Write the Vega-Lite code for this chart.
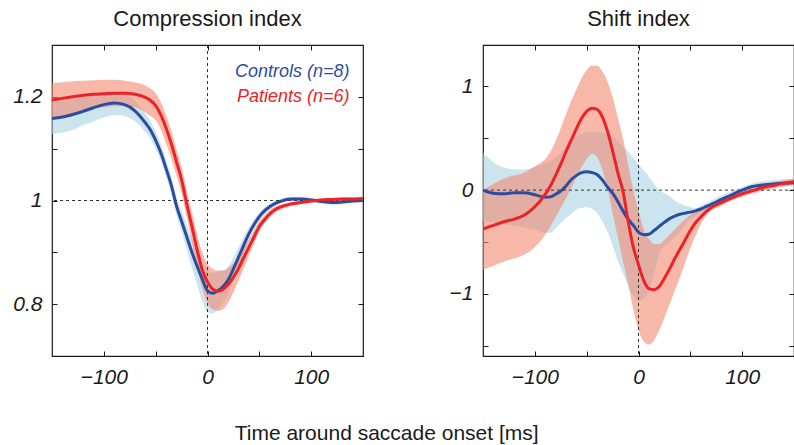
{
  "$schema": "https://vega.github.io/schema/vega-lite/v6.json",
  "background": "white",
  "padding": {"left": 12, "top": 6, "right": 0, "bottom": 0},
  "bounds": "flush",
  "spacing": 120,
  "config": {
    "font": "Liberation Sans",
    "view": {"stroke": "#1a1a1a", "strokeWidth": 1.2},
    "axis": {"grid": false, "domain": false, "title": null, "tickColor": "#1a1a1a", "tickSize": -5, "tickWidth": 1, "labelFont": "Liberation Sans", "labelFontSize": 21, "labelFontStyle": "italic", "labelColor": "#1a1a1a", "labelPadding": 15},
    "title": {"font": "Liberation Sans", "fontSize": 22, "fontWeight": "normal", "color": "#1a1a1a"}
  },
  "title": {"text": "Time around saccade onset [ms]", "orient": "bottom", "anchor": "middle", "offset": 35, "dx": -17, "fontSize": 21},
  "datasets": {
    "left": [
      {"t":-150,"g":"Controls","m":1.158,"lo":1.128,"hi":1.19},
      {"t":-140,"g":"Controls","m":1.161,"lo":1.131,"hi":1.192},
      {"t":-130,"g":"Controls","m":1.166,"lo":1.136,"hi":1.195},
      {"t":-120,"g":"Controls","m":1.172,"lo":1.145,"hi":1.199},
      {"t":-110,"g":"Controls","m":1.179,"lo":1.153,"hi":1.203},
      {"t":-100,"g":"Controls","m":1.185,"lo":1.16,"hi":1.206},
      {"t":-90,"g":"Controls","m":1.188,"lo":1.165,"hi":1.207},
      {"t":-80,"g":"Controls","m":1.185,"lo":1.163,"hi":1.205},
      {"t":-70,"g":"Controls","m":1.173,"lo":1.153,"hi":1.193},
      {"t":-60,"g":"Controls","m":1.15,"lo":1.132,"hi":1.168},
      {"t":-55,"g":"Controls","m":1.136,"lo":1.119,"hi":1.153},
      {"t":-50,"g":"Controls","m":1.116,"lo":1.1,"hi":1.132},
      {"t":-45,"g":"Controls","m":1.092,"lo":1.076,"hi":1.108},
      {"t":-40,"g":"Controls","m":1.062,"lo":1.046,"hi":1.078},
      {"t":-35,"g":"Controls","m":1.03,"lo":1.014,"hi":1.046},
      {"t":-30,"g":"Controls","m":0.99,"lo":0.973,"hi":1.007},
      {"t":-25,"g":"Controls","m":0.96,"lo":0.94,"hi":0.98},
      {"t":-20,"g":"Controls","m":0.93,"lo":0.905,"hi":0.953},
      {"t":-15,"g":"Controls","m":0.9,"lo":0.87,"hi":0.925},
      {"t":-10,"g":"Controls","m":0.873,"lo":0.838,"hi":0.903},
      {"t":-5,"g":"Controls","m":0.848,"lo":0.805,"hi":0.885},
      {"t":0,"g":"Controls","m":0.826,"lo":0.785,"hi":0.866},
      {"t":5,"g":"Controls","m":0.821,"lo":0.782,"hi":0.86},
      {"t":10,"g":"Controls","m":0.826,"lo":0.79,"hi":0.862},
      {"t":15,"g":"Controls","m":0.834,"lo":0.803,"hi":0.865},
      {"t":20,"g":"Controls","m":0.847,"lo":0.82,"hi":0.872},
      {"t":25,"g":"Controls","m":0.868,"lo":0.845,"hi":0.89},
      {"t":30,"g":"Controls","m":0.891,"lo":0.872,"hi":0.91},
      {"t":35,"g":"Controls","m":0.914,"lo":0.898,"hi":0.93},
      {"t":40,"g":"Controls","m":0.936,"lo":0.924,"hi":0.948},
      {"t":45,"g":"Controls","m":0.954,"lo":0.944,"hi":0.964},
      {"t":50,"g":"Controls","m":0.969,"lo":0.961,"hi":0.977},
      {"t":55,"g":"Controls","m":0.98,"lo":0.973,"hi":0.987},
      {"t":60,"g":"Controls","m":0.988,"lo":0.982,"hi":0.994},
      {"t":65,"g":"Controls","m":0.994,"lo":0.989,"hi":0.999},
      {"t":70,"g":"Controls","m":0.998,"lo":0.994,"hi":1.002},
      {"t":80,"g":"Controls","m":1.003,"lo":0.999,"hi":1.007},
      {"t":90,"g":"Controls","m":1.003,"lo":0.999,"hi":1.007},
      {"t":100,"g":"Controls","m":1.001,"lo":0.997,"hi":1.005},
      {"t":110,"g":"Controls","m":0.998,"lo":0.994,"hi":1.002},
      {"t":120,"g":"Controls","m":0.996,"lo":0.992,"hi":1.0},
      {"t":130,"g":"Controls","m":0.997,"lo":0.993,"hi":1.001},
      {"t":140,"g":"Controls","m":0.999,"lo":0.995,"hi":1.003},
      {"t":150,"g":"Controls","m":1.0,"lo":0.996,"hi":1.004},
      {"t":-150,"g":"Patients","m":1.194,"lo":1.158,"hi":1.226},
      {"t":-140,"g":"Patients","m":1.197,"lo":1.163,"hi":1.228},
      {"t":-130,"g":"Patients","m":1.2,"lo":1.168,"hi":1.23},
      {"t":-120,"g":"Patients","m":1.203,"lo":1.173,"hi":1.231},
      {"t":-110,"g":"Patients","m":1.205,"lo":1.178,"hi":1.232},
      {"t":-100,"g":"Patients","m":1.206,"lo":1.18,"hi":1.233},
      {"t":-90,"g":"Patients","m":1.207,"lo":1.182,"hi":1.233},
      {"t":-80,"g":"Patients","m":1.207,"lo":1.182,"hi":1.231},
      {"t":-70,"g":"Patients","m":1.205,"lo":1.18,"hi":1.228},
      {"t":-60,"g":"Patients","m":1.199,"lo":1.17,"hi":1.222},
      {"t":-55,"g":"Patients","m":1.193,"lo":1.163,"hi":1.216},
      {"t":-50,"g":"Patients","m":1.183,"lo":1.155,"hi":1.207},
      {"t":-45,"g":"Patients","m":1.165,"lo":1.137,"hi":1.19},
      {"t":-40,"g":"Patients","m":1.14,"lo":1.11,"hi":1.165},
      {"t":-35,"g":"Patients","m":1.11,"lo":1.082,"hi":1.135},
      {"t":-30,"g":"Patients","m":1.075,"lo":1.048,"hi":1.1},
      {"t":-25,"g":"Patients","m":1.04,"lo":1.013,"hi":1.065},
      {"t":-20,"g":"Patients","m":0.993,"lo":0.968,"hi":1.02},
      {"t":-15,"g":"Patients","m":0.95,"lo":0.92,"hi":0.978},
      {"t":-10,"g":"Patients","m":0.905,"lo":0.873,"hi":0.935},
      {"t":-5,"g":"Patients","m":0.866,"lo":0.83,"hi":0.9},
      {"t":0,"g":"Patients","m":0.843,"lo":0.802,"hi":0.878},
      {"t":5,"g":"Patients","m":0.829,"lo":0.79,"hi":0.868},
      {"t":10,"g":"Patients","m":0.825,"lo":0.787,"hi":0.865},
      {"t":15,"g":"Patients","m":0.829,"lo":0.79,"hi":0.865},
      {"t":20,"g":"Patients","m":0.838,"lo":0.803,"hi":0.87},
      {"t":25,"g":"Patients","m":0.852,"lo":0.823,"hi":0.879},
      {"t":30,"g":"Patients","m":0.869,"lo":0.846,"hi":0.891},
      {"t":35,"g":"Patients","m":0.89,"lo":0.87,"hi":0.908},
      {"t":40,"g":"Patients","m":0.91,"lo":0.894,"hi":0.925},
      {"t":45,"g":"Patients","m":0.93,"lo":0.917,"hi":0.943},
      {"t":50,"g":"Patients","m":0.95,"lo":0.94,"hi":0.96},
      {"t":55,"g":"Patients","m":0.963,"lo":0.955,"hi":0.971},
      {"t":60,"g":"Patients","m":0.974,"lo":0.967,"hi":0.981},
      {"t":65,"g":"Patients","m":0.982,"lo":0.976,"hi":0.988},
      {"t":70,"g":"Patients","m":0.987,"lo":0.982,"hi":0.992},
      {"t":80,"g":"Patients","m":0.993,"lo":0.989,"hi":0.997},
      {"t":90,"g":"Patients","m":0.996,"lo":0.993,"hi":0.999},
      {"t":100,"g":"Patients","m":0.999,"lo":0.996,"hi":1.002},
      {"t":110,"g":"Patients","m":1.001,"lo":0.998,"hi":1.004},
      {"t":120,"g":"Patients","m":1.002,"lo":0.999,"hi":1.005},
      {"t":130,"g":"Patients","m":1.003,"lo":1.0,"hi":1.006},
      {"t":140,"g":"Patients","m":1.003,"lo":1.0,"hi":1.006},
      {"t":150,"g":"Patients","m":1.004,"lo":1.001,"hi":1.007}
    ],
    "right": [
      {"t":-150,"g":"Controls","m":0.0,"lo":-0.3,"hi":0.36},
      {"t":-140,"g":"Controls","m":-0.03,"lo":-0.31,"hi":0.27},
      {"t":-130,"g":"Controls","m":-0.035,"lo":-0.33,"hi":0.22},
      {"t":-120,"g":"Controls","m":-0.025,"lo":-0.34,"hi":0.2},
      {"t":-110,"g":"Controls","m":-0.025,"lo":-0.36,"hi":0.2},
      {"t":-100,"g":"Controls","m":-0.045,"lo":-0.38,"hi":0.22},
      {"t":-90,"g":"Controls","m":-0.068,"lo":-0.41,"hi":0.26},
      {"t":-85,"g":"Controls","m":-0.065,"lo":-0.41,"hi":0.28},
      {"t":-80,"g":"Controls","m":-0.04,"lo":-0.37,"hi":0.31},
      {"t":-75,"g":"Controls","m":-0.01,"lo":-0.32,"hi":0.36},
      {"t":-70,"g":"Controls","m":0.04,"lo":-0.27,"hi":0.42},
      {"t":-65,"g":"Controls","m":0.1,"lo":-0.23,"hi":0.47},
      {"t":-60,"g":"Controls","m":0.14,"lo":-0.19,"hi":0.52},
      {"t":-55,"g":"Controls","m":0.168,"lo":-0.17,"hi":0.545},
      {"t":-50,"g":"Controls","m":0.178,"lo":-0.165,"hi":0.56},
      {"t":-45,"g":"Controls","m":0.17,"lo":-0.18,"hi":0.565},
      {"t":-40,"g":"Controls","m":0.15,"lo":-0.22,"hi":0.56},
      {"t":-35,"g":"Controls","m":0.1,"lo":-0.3,"hi":0.55},
      {"t":-30,"g":"Controls","m":0.03,"lo":-0.4,"hi":0.54},
      {"t":-25,"g":"Controls","m":-0.03,"lo":-0.53,"hi":0.52},
      {"t":-20,"g":"Controls","m":-0.11,"lo":-0.68,"hi":0.47},
      {"t":-15,"g":"Controls","m":-0.2,"lo":-0.8,"hi":0.42},
      {"t":-10,"g":"Controls","m":-0.28,"lo":-0.93,"hi":0.37},
      {"t":-5,"g":"Controls","m":-0.34,"lo":-1.02,"hi":0.31},
      {"t":0,"g":"Controls","m":-0.405,"lo":-1.07,"hi":0.25},
      {"t":5,"g":"Controls","m":-0.43,"lo":-1.05,"hi":0.19},
      {"t":10,"g":"Controls","m":-0.425,"lo":-0.97,"hi":0.13},
      {"t":15,"g":"Controls","m":-0.39,"lo":-0.8,"hi":0.06},
      {"t":20,"g":"Controls","m":-0.35,"lo":-0.62,"hi":0.0},
      {"t":25,"g":"Controls","m":-0.31,"lo":-0.54,"hi":-0.03},
      {"t":30,"g":"Controls","m":-0.275,"lo":-0.5,"hi":-0.06},
      {"t":35,"g":"Controls","m":-0.25,"lo":-0.45,"hi":-0.1},
      {"t":40,"g":"Controls","m":-0.232,"lo":-0.4,"hi":-0.13},
      {"t":45,"g":"Controls","m":-0.222,"lo":-0.33,"hi":-0.15},
      {"t":50,"g":"Controls","m":-0.212,"lo":-0.28,"hi":-0.165},
      {"t":55,"g":"Controls","m":-0.2,"lo":-0.25,"hi":-0.175},
      {"t":60,"g":"Controls","m":-0.182,"lo":-0.22,"hi":-0.15},
      {"t":65,"g":"Controls","m":-0.16,"lo":-0.2,"hi":-0.13},
      {"t":70,"g":"Controls","m":-0.138,"lo":-0.18,"hi":-0.1},
      {"t":80,"g":"Controls","m":-0.09,"lo":-0.13,"hi":-0.05},
      {"t":90,"g":"Controls","m":-0.045,"lo":-0.09,"hi":-0.01},
      {"t":100,"g":"Controls","m":0.0,"lo":-0.05,"hi":0.03},
      {"t":110,"g":"Controls","m":0.035,"lo":-0.01,"hi":0.065},
      {"t":120,"g":"Controls","m":0.05,"lo":0.015,"hi":0.085},
      {"t":130,"g":"Controls","m":0.06,"lo":0.03,"hi":0.095},
      {"t":140,"g":"Controls","m":0.067,"lo":0.035,"hi":0.105},
      {"t":150,"g":"Controls","m":0.072,"lo":0.04,"hi":0.11},
      {"t":-150,"g":"Patients","m":-0.375,"lo":-0.77,"hi":0.0},
      {"t":-140,"g":"Patients","m":-0.34,"lo":-0.73,"hi":0.06},
      {"t":-130,"g":"Patients","m":-0.305,"lo":-0.69,"hi":0.11},
      {"t":-120,"g":"Patients","m":-0.28,"lo":-0.66,"hi":0.14},
      {"t":-110,"g":"Patients","m":-0.24,"lo":-0.62,"hi":0.17},
      {"t":-100,"g":"Patients","m":-0.16,"lo":-0.55,"hi":0.23},
      {"t":-90,"g":"Patients","m":-0.04,"lo":-0.43,"hi":0.3},
      {"t":-85,"g":"Patients","m":0.04,"lo":-0.35,"hi":0.37},
      {"t":-80,"g":"Patients","m":0.14,"lo":-0.26,"hi":0.47},
      {"t":-75,"g":"Patients","m":0.25,"lo":-0.17,"hi":0.6},
      {"t":-70,"g":"Patients","m":0.37,"lo":-0.08,"hi":0.73},
      {"t":-65,"g":"Patients","m":0.48,"lo":0.02,"hi":0.86},
      {"t":-60,"g":"Patients","m":0.59,"lo":0.12,"hi":0.97},
      {"t":-55,"g":"Patients","m":0.69,"lo":0.22,"hi":1.08},
      {"t":-50,"g":"Patients","m":0.76,"lo":0.3,"hi":1.16},
      {"t":-45,"g":"Patients","m":0.79,"lo":0.35,"hi":1.2},
      {"t":-40,"g":"Patients","m":0.78,"lo":0.32,"hi":1.2},
      {"t":-35,"g":"Patients","m":0.71,"lo":0.2,"hi":1.15},
      {"t":-30,"g":"Patients","m":0.57,"lo":0.02,"hi":1.05},
      {"t":-25,"g":"Patients","m":0.38,"lo":-0.22,"hi":0.9},
      {"t":-20,"g":"Patients","m":0.17,"lo":-0.45,"hi":0.7},
      {"t":-15,"g":"Patients","m":-0.01,"lo":-0.68,"hi":0.5},
      {"t":-10,"g":"Patients","m":-0.3,"lo":-0.9,"hi":0.25},
      {"t":-5,"g":"Patients","m":-0.55,"lo":-1.15,"hi":0.0},
      {"t":0,"g":"Patients","m":-0.72,"lo":-1.35,"hi":-0.2},
      {"t":5,"g":"Patients","m":-0.87,"lo":-1.46,"hi":-0.38},
      {"t":10,"g":"Patients","m":-0.95,"lo":-1.49,"hi":-0.47},
      {"t":15,"g":"Patients","m":-0.96,"lo":-1.45,"hi":-0.52},
      {"t":20,"g":"Patients","m":-0.93,"lo":-1.35,"hi":-0.52},
      {"t":25,"g":"Patients","m":-0.85,"lo":-1.23,"hi":-0.48},
      {"t":30,"g":"Patients","m":-0.76,"lo":-1.1,"hi":-0.43},
      {"t":35,"g":"Patients","m":-0.66,"lo":-0.97,"hi":-0.38},
      {"t":40,"g":"Patients","m":-0.57,"lo":-0.84,"hi":-0.33},
      {"t":45,"g":"Patients","m":-0.48,"lo":-0.7,"hi":-0.28},
      {"t":50,"g":"Patients","m":-0.39,"lo":-0.56,"hi":-0.24},
      {"t":55,"g":"Patients","m":-0.315,"lo":-0.44,"hi":-0.21},
      {"t":60,"g":"Patients","m":-0.26,"lo":-0.33,"hi":-0.19},
      {"t":65,"g":"Patients","m":-0.21,"lo":-0.25,"hi":-0.17},
      {"t":70,"g":"Patients","m":-0.17,"lo":-0.2,"hi":-0.14},
      {"t":80,"g":"Patients","m":-0.12,"lo":-0.15,"hi":-0.09},
      {"t":90,"g":"Patients","m":-0.075,"lo":-0.1,"hi":-0.05},
      {"t":100,"g":"Patients","m":-0.035,"lo":-0.065,"hi":-0.01},
      {"t":110,"g":"Patients","m":-0.005,"lo":-0.035,"hi":0.025},
      {"t":120,"g":"Patients","m":0.025,"lo":-0.005,"hi":0.05},
      {"t":130,"g":"Patients","m":0.045,"lo":0.015,"hi":0.075},
      {"t":140,"g":"Patients","m":0.065,"lo":0.035,"hi":0.095},
      {"t":150,"g":"Patients","m":0.082,"lo":0.05,"hi":0.11}
    ]
  },
  "hconcat": [
    {
      "width": 311,
      "height": 311,
      "title": {"text": "Compression index", "offset": 14},
      "data": {"name": "left"},
      "layer": [
        {
          "mark": {"type": "area", "interpolate": "monotone", "opacity": 0.6, "clip": true},
          "encoding": {
            "x": {"field": "t", "type": "quantitative", "scale": {"domain": [-150, 150], "nice": false, "zero": false},
                  "axis": {"orient": "bottom", "values": [-100, -50, 0, 50, 100], "format": "d", "labelExpr": "datum.value == -50 || datum.value == 50 ? '' : datum.label"}},
            "y": {"field": "lo", "type": "quantitative", "scale": {"domain": [0.7, 1.3], "nice": false, "zero": false},
                  "axis": {"orient": "left", "values": [0.8, 0.9, 1, 1.1, 1.2], "format": "~r", "labelExpr": "datum.value == 0.9 || datum.value == 1.1 ? '' : datum.label"}},
            "y2": {"field": "hi"},
            "fill": {"field": "g", "type": "nominal", "scale": {"domain": ["Controls", "Patients"], "range": ["#a8d2e2", "#f28971"]}, "legend": null}
          }
        },
        {
          "data": {"values": [{"t": 0}]},
          "mark": {"type": "rule", "color": "#333333", "strokeWidth": 1, "strokeDash": [3, 3]},
          "encoding": {"x": {"field": "t", "type": "quantitative", "axis": null}}
        },
        {
          "data": {"values": [{"v": 1}]},
          "mark": {"type": "rule", "color": "#333333", "strokeWidth": 1, "strokeDash": [3, 3]},
          "encoding": {"y": {"field": "v", "type": "quantitative", "axis": null}}
        },
        {
          "mark": {"type": "line", "interpolate": "monotone", "strokeWidth": 3, "clip": true},
          "encoding": {
            "x": {"field": "t", "type": "quantitative", "axis": {"orient": "top", "values": [-100, -50, 0, 50, 100], "labels": false}},
            "y": {"field": "m", "type": "quantitative", "axis": {"orient": "right", "values": [0.8, 0.9, 1, 1.1, 1.2], "labels": false}},
            "stroke": {"field": "g", "type": "nominal", "scale": {"domain": ["Controls", "Patients"], "range": ["#2c4c9f", "#eb2227"]}, "legend": null}
          }
        },
        {
          "data": {"values": [{"label": "Controls (n=8)", "g": "Controls", "t": 137, "v": 1.247}, {"label": "Patients (n=6)", "g": "Patients", "t": 137, "v": 1.2}]},
          "mark": {"type": "text", "align": "right", "baseline": "middle", "fontSize": 18, "fontStyle": "italic", "font": "Liberation Sans"},
          "encoding": {
            "x": {"field": "t", "type": "quantitative", "axis": null},
            "y": {"field": "v", "type": "quantitative", "axis": null},
            "text": {"field": "label"},
            "color": {"field": "g", "type": "nominal", "scale": {"domain": ["Controls", "Patients"], "range": ["#2c4c9f", "#eb2227"]}, "legend": null}
          }
        }
      ]
    },
    {
      "width": 311,
      "height": 311,
      "title": {"text": "Shift index", "offset": 14},
      "data": {"name": "right"},
      "layer": [
        {
          "mark": {"type": "area", "interpolate": "monotone", "opacity": 0.6, "clip": true},
          "encoding": {
            "x": {"field": "t", "type": "quantitative", "scale": {"domain": [-150, 150], "nice": false, "zero": false},
                  "axis": {"orient": "bottom", "values": [-100, -50, 0, 50, 100], "format": "d", "labelExpr": "datum.value == -50 || datum.value == 50 ? '' : datum.label"}},
            "y": {"field": "lo", "type": "quantitative", "scale": {"domain": [-1.6, 1.4], "nice": false, "zero": false},
                  "axis": {"orient": "left", "values": [-1.5, -1, -0.5, 0, 0.5, 1], "format": "~r", "labelExpr": "datum.value == -1.5 || datum.value == -0.5 || datum.value == 0.5 ? '' : datum.label"}},
            "y2": {"field": "hi"},
            "fill": {"field": "g", "type": "nominal", "scale": {"domain": ["Controls", "Patients"], "range": ["#a8d2e2", "#f28971"]}, "legend": null}
          }
        },
        {
          "data": {"values": [{"t": 0}]},
          "mark": {"type": "rule", "color": "#333333", "strokeWidth": 1, "strokeDash": [3, 3]},
          "encoding": {"x": {"field": "t", "type": "quantitative", "axis": null}}
        },
        {
          "data": {"values": [{"v": 0}]},
          "mark": {"type": "rule", "color": "#333333", "strokeWidth": 1, "strokeDash": [3, 3]},
          "encoding": {"y": {"field": "v", "type": "quantitative", "axis": null}}
        },
        {
          "mark": {"type": "line", "interpolate": "monotone", "strokeWidth": 3, "clip": true},
          "encoding": {
            "x": {"field": "t", "type": "quantitative", "axis": {"orient": "top", "values": [-100, -50, 0, 50, 100], "labels": false}},
            "y": {"field": "m", "type": "quantitative", "axis": {"orient": "right", "values": [-1.5, -1, -0.5, 0, 0.5, 1], "labels": false}},
            "stroke": {"field": "g", "type": "nominal", "scale": {"domain": ["Controls", "Patients"], "range": ["#2c4c9f", "#eb2227"]}, "legend": null}
          }
        }
      ]
    }
  ]
}
